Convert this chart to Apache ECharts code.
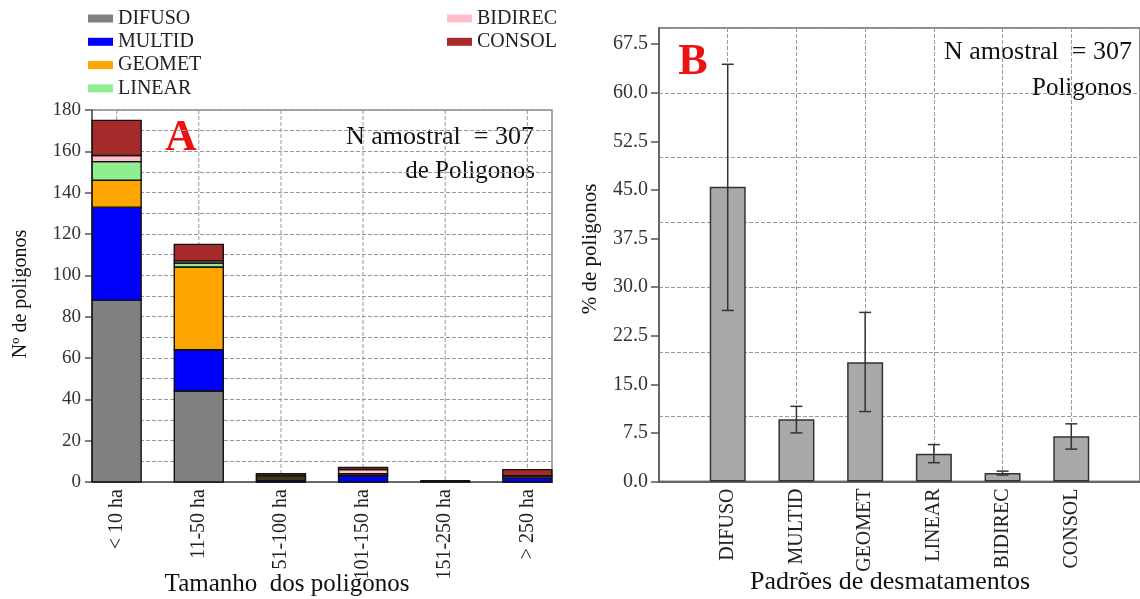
<!DOCTYPE html>
<html>
<head>
<meta charset="utf-8">
<script src="https://cdn.jsdelivr.net/npm/echarts@6/dist/echarts.min.js"></script>
<style>html,body{margin:0;padding:0;background:#fff;}#c{width:1140px;height:599px;}</style>
</head>
<body>
<div id="c"></div>
<script>
// ---- Chart A data (stacked counts) ----
const catsA = ['< 10 ha', '11-50 ha', '51-100 ha', '101-150 ha', '151-250 ha', '> 250 ha'];
const difusoA = [88, 44, 0, 0, 0.4, 0];
const multidA = [45, 20, 1, 3, 0, 2];
const geometA = [13, 40, 1, 1, 0, 1];
const linearA = [9, 2, 1, 0, 0, 0];
const bidirecA = [3, 1, 0, 2, 0, 0];
const consolA = [17, 8, 1, 1, 0, 3];
const yTicksA = [0, 20, 40, 60, 80, 100, 120, 140, 160, 180];

// ---- Chart B data (% mean with error bars) ----
const catsB = ['DIFUSO', 'MULTID', 'GEOMET', 'LINEAR', 'BIDIREC', 'CONSOL'];
const meanB = [45.5, 9.6, 18.4, 4.3, 1.3, 7.0];
const lowB = [26.4, 7.5, 10.8, 2.9, 1.0, 5.0];
const highB = [64.4, 11.6, 26.1, 5.7, 1.6, 8.9];
const yTicksB = ['0.0', '7.5', '15.0', '22.5', '30.0', '37.5', '45.0', '52.5', '60.0', '67.5'];

const serif = 'Liberation Serif';
const names = ['DIFUSO', 'MULTID', 'GEOMET', 'LINEAR', 'BIDIREC', 'CONSOL'];
const colors = ['#808080', '#0000ff', '#ffa500', '#90ee90', '#ffc0cb', '#a52a2a'];
const seriesA = [difusoA, multidA, geometA, linearA, bidirecA, consolA];

const yMaxA = yTicksA[yTicksA.length - 1];
const yMaxB = 70;
const dash = { color: '#9a9a9a', type: [4, 2], width: 1 };
const barHalfA = 24.5;

const chart = echarts.init(document.getElementById('c'), null, { renderer: 'canvas' });

// stacked segments: [index, base, top]
const baseA = catsA.map(() => 0);
const stackSeriesA = seriesA.map((arr, k) => {
  const data = arr.map((v, i) => { const d = [i, baseA[i], baseA[i] + v]; baseA[i] += v; return d; });
  return {
    name: names[k], type: 'custom', xAxisIndex: 0, yAxisIndex: 0, z: 2,
    itemStyle: { color: colors[k] },
    data: data,
    renderItem: (params, api) => {
      const x = api.value(0);
      const p0 = api.coord([x, api.value(1)]);
      const p1 = api.coord([x, api.value(2)]);
      return {
        type: 'rect',
        shape: { x: p0[0] - barHalfA, y: p1[1], width: barHalfA * 2, height: p0[1] - p1[1] },
        style: { fill: colors[k], stroke: '#111', lineWidth: 1.4 }
      };
    }
  };
});

const legendCommon = {
  orient: 'vertical', top: 8.5, padding: 0,
  itemWidth: 25, itemHeight: 8, itemGap: 3.3, icon: 'rect',
  itemStyle: { borderWidth: 0 },
  textStyle: { fontFamily: serif, fontSize: 20, color: '#222', lineHeight: 17 }
};

const option = {
  animation: false,
  textStyle: { fontFamily: serif },
  legend: [
    Object.assign({ data: names.slice(0, 4), left: 88 }, legendCommon),
    Object.assign({ data: names.slice(4), left: 447 }, legendCommon)
  ],
  grid: [
    { left: 92, top: 110, width: 460, height: 372, show: true, borderColor: '#8a8a8a', borderWidth: 1.5, backgroundColor: 'transparent' },
    { left: 659, top: 28, width: 484, height: 453.5, show: true, borderColor: '#8a8a8a', borderWidth: 2, backgroundColor: 'transparent' }
  ],
  xAxis: [
    {
      gridIndex: 0, type: 'value', min: -0.3, max: 5.3,
      axisLine: { show: true, onZero: false, lineStyle: { color: '#555', width: 1.5 } },
      axisTick: { show: false },
      splitLine: { show: false },
      axisLabel: {
        customValues: catsA.map((c, i) => i),
        formatter: v => catsA[Math.round(v)] || '',
        rotate: 90, margin: 7, fontFamily: serif, fontSize: 20, color: '#222'
      }
    },
    {
      gridIndex: 1, type: 'value', min: 0, max: 7, interval: 1,
      axisLine: { show: true, onZero: false, lineStyle: { color: '#666', width: 2 } },
      axisTick: { show: false },
      splitLine: { show: true, lineStyle: dash },
      axisLabel: {
        formatter: v => catsB[v - 1] || '',
        rotate: 90, margin: 7, fontFamily: serif, fontSize: 20, color: '#222'
      }
    }
  ],
  yAxis: [
    {
      gridIndex: 0, type: 'value', min: 0, max: yMaxA, interval: 20,
      axisLine: { show: true, onZero: false, lineStyle: { color: '#555', width: 1.5 } },
      axisTick: { show: true, inside: false, length: 7, lineStyle: { color: '#555', width: 1.5 } },
      splitLine: { show: true, lineStyle: dash },
      minorTick: { show: false, splitNumber: 2 },
      minorSplitLine: { show: true, lineStyle: dash },
      axisLabel: { margin: 11, fontFamily: serif, fontSize: 19, color: '#333' }
    },
    {
      gridIndex: 1, type: 'value', min: 0, max: yMaxB, interval: 7.5, position: 'left',
      axisLine: { show: true, onZero: false, lineStyle: { color: '#666', width: 2 } },
      axisTick: { show: true, length: 8, lineStyle: { color: '#555', width: 1.5 } },
      splitLine: { show: false },
      axisLabel: {
        showMaxLabel: false, margin: 11, fontFamily: serif, fontSize: 20, color: '#333',
        formatter: v => { const i = Math.round(v / 7.5); return (Math.abs(i * 7.5 - v) < 1e-6 && yTicksB[i]) ? yTicksB[i] : ''; }
      }
    },
    {
      gridIndex: 1, type: 'value', min: 0, max: yMaxB, interval: 10, position: 'left',
      axisLine: { show: false, onZero: false }, axisTick: { show: false }, axisLabel: { show: false },
      splitLine: { show: true, lineStyle: dash }
    }
  ],
  series: [
    {
      type: 'custom', xAxisIndex: 0, yAxisIndex: 0, z: 1, silent: true,
      data: catsA.map((c, i) => [i, 0]),
      renderItem: (params, api) => {
        const t = api.coord([api.value(0), yMaxA]);
        const b = api.coord([api.value(0), 0]);
        return { type: 'line', shape: { x1: t[0], y1: t[1], x2: b[0], y2: b[1] }, style: { stroke: '#9a9a9a', lineWidth: 1, lineDash: [4, 2] } };
      }
    },
    ...stackSeriesA,
    {
      name: 'B', type: 'bar', xAxisIndex: 1, yAxisIndex: 1, barWidth: 36, z: 2,
      itemStyle: { color: '#a9a9a9', borderColor: '#333', borderWidth: 1.5 },
      data: meanB.map((v, i) => [i + 1, v])
    },
    {
      type: 'custom', xAxisIndex: 1, yAxisIndex: 1, z: 3, silent: true,
      data: catsB.map((c, i) => [i + 1, lowB[i], highB[i]]),
      renderItem: (params, api) => {
        const lo = api.coord([api.value(0), api.value(1)]);
        const hi = api.coord([api.value(0), api.value(2)]);
        const w = 6;
        const st = { stroke: '#333', lineWidth: 1.5 };
        return {
          type: 'group', children: [
            { type: 'line', shape: { x1: lo[0], y1: lo[1], x2: hi[0], y2: hi[1] }, style: st },
            { type: 'line', shape: { x1: lo[0] - w, y1: lo[1], x2: lo[0] + w, y2: lo[1] }, style: st },
            { type: 'line', shape: { x1: hi[0] - w, y1: hi[1], x2: hi[0] + w, y2: hi[1] }, style: st }
          ]
        };
      }
    }
  ],
  graphic: [
    { type: 'text', x: 181, y: 139, style: { text: 'A', fill: '#ee1111', font: 'bold 44px "Liberation Serif"', align: 'center', verticalAlign: 'middle' } },
    { type: 'text', x: 534, y: 137, style: { text: 'N amostral  = 307', fill: '#111', font: '26px "Liberation Serif"', align: 'right', verticalAlign: 'middle' } },
    { type: 'text', x: 535, y: 171, style: { text: 'de Poligonos', fill: '#111', font: '25px "Liberation Serif"', align: 'right', verticalAlign: 'middle' } },
    { type: 'text', x: 693, y: 63, style: { text: 'B', fill: '#ee1111', font: 'bold 44px "Liberation Serif"', align: 'center', verticalAlign: 'middle' } },
    { type: 'text', x: 1132, y: 52, style: { text: 'N amostral  = 307', fill: '#111', font: '26px "Liberation Serif"', align: 'right', verticalAlign: 'middle' } },
    { type: 'text', x: 1132, y: 88, style: { text: 'Poligonos', fill: '#111', font: '25px "Liberation Serif"', align: 'right', verticalAlign: 'middle' } },
    { type: 'text', x: 287, y: 584, style: { text: 'Tamanho  dos poligonos', fill: '#111', font: '25px "Liberation Serif"', align: 'center', verticalAlign: 'middle' } },
    { type: 'text', x: 890, y: 582, style: { text: 'Padrões de desmatamentos', fill: '#111', font: '26px "Liberation Serif"', align: 'center', verticalAlign: 'middle' } },
    { type: 'text', x: 21, y: 294, rotation: Math.PI / 2, style: { text: 'Nº de poligonos', fill: '#111', font: '20px "Liberation Serif"', align: 'center', verticalAlign: 'middle' } },
    { type: 'text', x: 590, y: 249, rotation: Math.PI / 2, style: { text: '% de poligonos', fill: '#111', font: '21px "Liberation Serif"', align: 'center', verticalAlign: 'middle' } }
  ]
};
chart.setOption(option);
</script>
</body>
</html>
